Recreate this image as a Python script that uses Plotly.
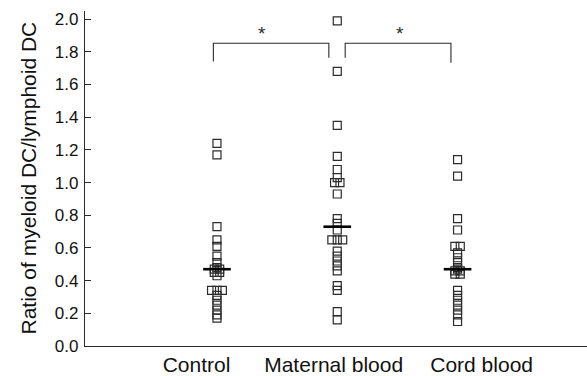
import plotly.graph_objects as go
import numpy as np

categories = ["Control", "Maternal blood", "Cord blood"]
control = [1.24, 1.17, 0.73, 0.65, 0.61, 0.55, 0.51, 0.48, 0.47, 0.47, 0.45, 0.45,
           0.43, 0.34, 0.34, 0.34, 0.31, 0.28, 0.25, 0.22, 0.19, 0.17]
maternal = [1.99, 1.68, 1.35, 1.16, 1.08, 1.03, 1.00, 1.00, 0.93, 0.78, 0.75, 0.71,
            0.65, 0.65, 0.65, 0.58, 0.55, 0.52, 0.49, 0.46, 0.37, 0.34, 0.21, 0.16]
cord = [1.14, 1.04, 0.78, 0.71, 0.61, 0.61, 0.57, 0.54, 0.51, 0.48, 0.47, 0.46,
        0.46, 0.44, 0.44, 0.34, 0.31, 0.28, 0.25, 0.22, 0.19, 0.15]
medians = [0.47, 0.73, 0.47]
y_ticks = [0.0, 0.2, 0.4, 0.6, 0.8, 1.0, 1.2, 1.4, 1.6, 1.8, 2.0]
significance = [("*", 0, 1), ("*", 1, 2)]

groups = [control, maternal, cord]
FONT = "Liberation Sans, Arial, Helvetica, sans-serif"
INK = "#2b2b2b"

fig = go.Figure()

# spread identical values side by side
for i, vals in enumerate(groups):
    xs, ys = [], []
    uniq = {}
    for v in vals:
        uniq.setdefault(v, []).append(v)
    for v, lst in uniq.items():
        n = len(lst)
        for k in range(n):
            xs.append(i + 1 + (k - (n - 1) / 2) * 0.045)
            ys.append(v)
    fig.add_trace(go.Scatter(
        x=xs, y=ys, mode="markers",
        marker=dict(symbol="square-open", size=8, color=INK, line=dict(width=1.2, color=INK)),
        showlegend=False, hoverinfo="y"))

# medians
for i, m in enumerate(medians):
    fig.add_trace(go.Scatter(
        x=[i + 1 - 0.115, i + 1 + 0.115], y=[m, m], mode="lines",
        line=dict(color="black", width=2.6), showlegend=False, hoverinfo="skip"))

# significance brackets
bracket_geom = [(0.97, 1.93, 1.853, 1.741, 1.764), (2.066, 2.945, 1.853, 1.764, 1.733)]
star_x = [1.375, 2.52]
for (txt, a, b), (x0, x1, top, yl, yr), sx in zip(significance, bracket_geom, star_x):
    fig.add_trace(go.Scatter(
        x=[x0, x0, x1, x1], y=[yl, top, top, yr], mode="lines",
        line=dict(color=INK, width=1.1), showlegend=False, hoverinfo="skip"))
    fig.add_annotation(x=sx, y=1.915, text=txt, showarrow=False,
                       font=dict(family=FONT, size=19, color=INK), yanchor="middle")

label_offsets = [-0.17, -0.03, 0.2]
fig.update_layout(
    width=587, height=376,
    margin=dict(l=85, r=0, t=11, b=28),
    paper_bgcolor="white", plot_bgcolor="white",
    font=dict(family=FONT, color=INK),
    xaxis=dict(range=[-0.097, 4.076], showgrid=False, zeroline=False,
               showline=True, linecolor=INK, linewidth=1.3,
               tickvals=[i + 1 + o for i, o in enumerate(label_offsets)],
               ticktext=categories, ticks="", tickfont=dict(size=21, color="#111")),
    yaxis=dict(range=[0, 2.05], showgrid=False, zeroline=False,
               showline=True, linecolor=INK, linewidth=1.3,
               tickvals=y_ticks, ticktext=[f"{t:.1f}" for t in y_ticks],
               ticks="inside", ticklen=6, tickwidth=1, tickcolor=INK,
               ticklabelstandoff=2,
               tickfont=dict(size=17, color="#111")),
)
fig.add_annotation(xref="paper", yref="paper", x=0, y=0.5, xshift=-57,
                   text="Ratio of myeloid DC/lymphoid DC", textangle=-90,
                   showarrow=False, font=dict(family=FONT, size=21, color="#111"),
                   xanchor="center", yanchor="middle")

fig.write_html("out.html", config={"displayModeBar": False},
               post_script="document.body.style.margin='0';document.body.style.overflow='hidden';")
